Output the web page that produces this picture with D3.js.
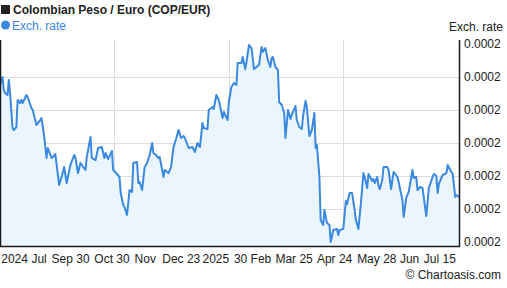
<!DOCTYPE html>
<html>
<head>
  <title></title>
  <style type="text/css">
    body { margin: 0; background: #fff; }
    svg { display: block; font-family: "Liberation Sans", Arial, sans-serif; }
    .grid line { stroke: #dcdcdc; stroke-width: 1px; }
    .frame { stroke: #1a1a1a; fill: none; }
    .tick-label { font-size: 12px; fill: #222; }
  </style>
</head>
<body>
  <div class="chart"></div>

  <script type="text/javascript" src="https://cdn.jsdelivr.net/npm/d3@7/dist/d3.min.js"></script>
  <script type="text/javascript">

    var dates = [
      '2024-07-21','2024-07-23','2024-07-24','2024-07-25','2024-07-27','2024-07-28','2024-07-29','2024-07-31',
      '2024-08-01','2024-08-03','2024-08-04','2024-08-06','2024-08-07','2024-08-08','2024-08-11','2024-08-12',
      '2024-08-15','2024-08-16','2024-08-19','2024-08-22','2024-08-23','2024-08-25','2024-08-27','2024-08-28',
      '2024-08-31','2024-09-01','2024-09-03','2024-09-06','2024-09-08','2024-09-10','2024-09-12','2024-09-15',
      '2024-09-18','2024-09-19','2024-09-21','2024-09-23','2024-09-27','2024-09-28','2024-10-01','2024-10-02',
      '2024-10-05','2024-10-07','2024-10-10','2024-10-12','2024-10-13','2024-10-15','2024-10-18','2024-10-19',
      '2024-10-22','2024-10-24','2024-10-25','2024-10-27','2024-10-28','2024-10-30','2024-11-01','2024-11-03',
      '2024-11-04','2024-11-07','2024-11-08','2024-11-09','2024-11-11','2024-11-13','2024-11-15','2024-11-17',
      '2024-11-19','2024-11-20','2024-11-22','2024-11-24','2024-11-25','2024-11-28','2024-11-29','2024-12-02',
      '2024-12-04','2024-12-06','2024-12-08','2024-12-10','2024-12-12','2024-12-14','2024-12-15','2024-12-18',
      '2024-12-21','2024-12-23','2024-12-25','2024-12-26','2024-12-27','2024-12-29','2024-12-30','2025-01-02',
      '2025-01-03','2025-01-06','2025-01-07','2025-01-09','2025-01-11','2025-01-14','2025-01-15','2025-01-18',
      '2025-01-19','2025-01-21','2025-01-23','2025-01-25','2025-01-26','2025-01-29','2025-01-30','2025-02-01',
      '2025-02-02','2025-02-04','2025-02-06','2025-02-08','2025-02-10','2025-02-12','2025-02-14','2025-02-15',
      '2025-02-17','2025-02-19','2025-02-21','2025-02-22','2025-02-23','2025-02-25','2025-02-27','2025-02-28',
      '2025-03-02','2025-03-04','2025-03-05','2025-03-07','2025-03-09','2025-03-10','2025-03-11','2025-03-13',
      '2025-03-14','2025-03-16','2025-03-18','2025-03-19','2025-03-21','2025-03-22','2025-03-24','2025-03-26',
      '2025-03-28','2025-03-29','2025-03-30','2025-04-01','2025-04-02','2025-04-04','2025-04-05','2025-04-07',
      '2025-04-09','2025-04-10','2025-04-12','2025-04-15','2025-04-16','2025-04-17','2025-04-20','2025-04-22',
      '2025-04-23','2025-04-25','2025-04-27','2025-04-29','2025-04-30','2025-05-02','2025-05-04','2025-05-06',
      '2025-05-07','2025-05-09','2025-05-10','2025-05-13','2025-05-14','2025-05-15','2025-05-17','2025-05-18',
      '2025-05-19','2025-05-21','2025-05-22','2025-05-25','2025-05-26','2025-05-28','2025-05-30','2025-06-02',
      '2025-06-03','2025-06-06','2025-06-07','2025-06-09','2025-06-11','2025-06-14','2025-06-15','2025-06-17',
      '2025-06-18','2025-06-20','2025-06-22','2025-06-25','2025-06-27','2025-06-30','2025-07-01','2025-07-03',
      '2025-07-04','2025-07-05','2025-07-07','2025-07-08','2025-07-11','2025-07-12','2025-07-15','2025-07-16',
      '2025-07-18','2025-07-19','2025-07-21'
    ];

    var rates = [
      0.00022879,0.00023000,0.00022803,0.00022758,0.00022727,0.00022955,0.00022758,0.00022227,
      0.00022197,0.00022242,0.00022652,0.00022606,0.00022652,0.00022606,0.00022727,0.00022697,
      0.00022530,0.00022500,0.00022273,0.00022348,0.00022379,0.00022121,0.00021773,0.00021924,
      0.00021773,0.00021788,0.00021833,0.00021364,0.00021485,0.00021636,0.00021394,0.00021667,
      0.00021818,0.00021773,0.00021545,0.00021697,0.00021591,0.00021788,0.00022091,0.00021773,
      0.00021742,0.00021924,0.00021939,0.00021773,0.00021848,0.00021758,0.00021879,0.00021591,
      0.00021530,0.00021485,0.00021242,0.00021061,0.00021030,0.00020909,0.00021288,0.00021258,
      0.00021697,0.00021712,0.00021394,0.00021409,0.00021288,0.00021636,0.00021697,0.00021818,
      0.00022000,0.00021848,0.00021818,0.00021773,0.00021788,0.00021485,0.00021591,0.00021545,
      0.00021636,0.00021939,0.00022061,0.00022197,0.00022076,0.00022106,0.00022076,0.00021924,
      0.00021939,0.00021864,0.00022000,0.00021970,0.00021939,0.00022303,0.00022227,0.00022212,
      0.00022500,0.00022545,0.00022515,0.00022727,0.00022652,0.00022379,0.00022470,0.00022348,
      0.00022621,0.00022848,0.00022909,0.00022879,0.00023212,0.00023212,0.00023303,0.00023121,
      0.00023227,0.00023485,0.00023439,0.00023121,0.00023152,0.00023182,0.00023455,0.00023379,
      0.00023439,0.00023258,0.00023152,0.00023288,0.00023303,0.00023152,0.00023106,0.00022621,
      0.00022576,0.00022455,0.00022076,0.00022500,0.00022364,0.00022424,0.00022470,0.00022561,
      0.00022348,0.00022242,0.00022212,0.00022409,0.00022636,0.00022545,0.00022106,0.00022197,
      0.00022455,0.00021924,0.00021970,0.00021485,0.00020833,0.00020758,0.00020985,0.00020788,
      0.00020758,0.00020500,0.00020682,0.00020697,0.00020606,0.00020682,0.00020697,0.00021121,
      0.00021076,0.00021242,0.00021242,0.00020985,0.00020833,0.00020697,0.00021091,0.00021545,
      0.00021485,0.00021318,0.00021530,0.00021424,0.00021455,0.00021394,0.00021485,0.00021348,
      0.00021303,0.00021439,0.00021636,0.00021636,0.00021591,0.00021303,0.00021561,0.00021485,
      0.00021409,0.00021136,0.00020879,0.00021167,0.00021258,0.00021591,0.00021470,0.00021485,
      0.00021288,0.00021333,0.00021318,0.00020894,0.00021318,0.00021485,0.00021530,0.00021500,
      0.00021242,0.00021379,0.00021470,0.00021515,0.00021545,0.00021667,0.00021561,0.00021530,
      0.00021182,0.00021212,0.00021182
    ];

    var yTicks = [0.000205, 0.00021, 0.000215, 0.00022, 0.000225, 0.00023, 0.000235];
    var xTickLabels = ['2024', 'Jul', 'Sep 30', 'Oct 30', 'Nov', 'Dec 23', '2025', '30 Feb', 'Mar 25', 'Apr 24', 'May 28', 'Jun', 'Jul 15'];
    var xTickDates = ['2024-07-22', '2024-08-15', '2024-08-31', '2024-10-04', '2024-11-05', '2024-11-27', '2024-12-29',
                      '2025-01-23', '2025-02-25', '2025-03-30', '2025-05-01', '2025-06-04', '2025-06-23'];
    var xGridDates = ['2024-10-20', '2025-01-19', '2025-04-20'];

    var parse = d3.timeParse('%Y-%m-%d');
    var data = dates.map(function (d, i) {
      return { date: parse(d), value: rates[i] };
    });

    var width = 507, height = 288;
    var plot = { left: 0, right: 459, top: 40, bottom: 246 };

    var svg = d3.select('.chart').append('svg')
      .attr('width', width).attr('height', height);

    var x = d3.scaleTime()
      .domain([parse('2024-07-21'), parse('2025-07-21')])
      .range([plot.left, plot.right]);

    var y = d3.scaleLinear()
      .domain([0.000205, 0.000235])
      .range([242, 44]);

    // grid
    var grid = svg.append('g').attr('class', 'grid');
    grid.selectAll('.hg')
      .data(yTicks.slice(1, -1)).enter().append('line')
        .attr('x1', plot.left).attr('x2', plot.right)
        .attr('y1', function (d) { return Math.round(y(d)) + 0.5; })
        .attr('y2', function (d) { return Math.round(y(d)) + 0.5; });
    grid.selectAll('.vg')
      .data(xGridDates).enter().append('line')
        .attr('y1', plot.top).attr('y2', plot.bottom)
        .attr('x1', function (d) { return Math.round(x(parse(d))) + 0.5; })
        .attr('x2', function (d) { return Math.round(x(parse(d))) + 0.5; });

    // left border sits under the fill
    svg.append('line').attr('class', 'frame')
      .attr('x1', 0.5).attr('x2', 0.5).attr('y1', plot.top).attr('y2', plot.bottom);

    var area = d3.area()
      .x(function (d) { return x(d.date); })
      .y0(plot.bottom)
      .y1(function (d) { return y(d.value); });

    var line = d3.line()
      .x(function (d) { return x(d.date); })
      .y(function (d) { return y(d.value); });

    svg.append('path').datum(data)
      .attr('d', area)
      .attr('fill', '#eaf5fe');

    svg.append('path').datum(data)
      .attr('d', line)
      .attr('fill', 'none')
      .attr('stroke', '#3a88e0')
      .attr('stroke-width', 2)
      .attr('stroke-linejoin', 'round');

    // bottom + right axis lines
    svg.append('path').attr('class', 'frame')
      .attr('stroke-width', 1.5)
      .attr('d', 'M0.5,' + plot.top + 'V' + (plot.bottom + 0.5) + 'H' + (plot.right + 0.5) + 'V' + plot.top);

    // y labels on the right
    svg.append('g').selectAll('text')
      .data(yTicks).enter().append('text')
        .attr('class', 'tick-label')
        .attr('x', plot.right + 5)
        .attr('y', function (d) { return y(d) + 4; })
        .text(d3.format('.4f'));

    // x labels
    svg.append('g').selectAll('text')
      .data(xTickDates).enter().append('text')
        .attr('class', 'tick-label')
        .attr('x', function (d) { return x(parse(d)); })
        .attr('y', 263)
        .text(function (d, i) { return xTickLabels[i]; });

    svg.append('text')
      .attr('class', 'tick-label')
      .attr('x', 503).attr('y', 31)
      .style('text-anchor', 'end')
      .text('Exch. rate');

    // title + legend
    svg.append('rect')
      .attr('x', 1).attr('y', 5).attr('width', 9).attr('height', 9)
      .attr('fill', '#222');
    svg.append('text')
      .attr('x', 13).attr('y', 14)
      .style('font-size', '12px').style('font-weight', 'bold').style('fill', '#222')
      .text('Colombian Peso / Euro (COP/EUR)');

    svg.append('circle')
      .attr('cx', 5.5).attr('cy', 25).attr('r', 4.5)
      .attr('fill', '#3a88e0');
    svg.append('text')
      .attr('x', 12).attr('y', 29.5)
      .style('font-size', '12px').style('fill', '#3a88e0')
      .text('Exch. rate');

    svg.append('text')
      .attr('x', 501).attr('y', 279)
      .style('text-anchor', 'end').style('font-size', '12px').style('fill', '#222')
      .text('\u00a9 Chartoasis.com');

  </script>
</body>
</html>
